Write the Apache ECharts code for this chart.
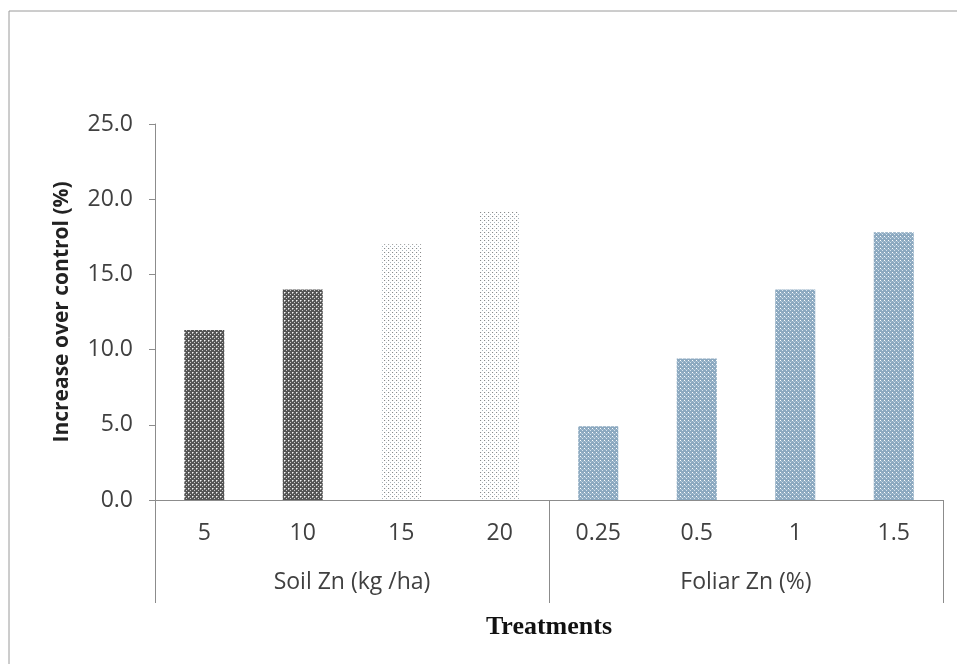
<!DOCTYPE html>
<html>
<head>
<meta charset="utf-8">
<script src="https://cdn.jsdelivr.net/npm/echarts@6/dist/echarts.min.js"></script>
<style>
  html, body { margin: 0; padding: 0; background: #fff; }
  #chart { width: 957px; height: 664px; }
</style>
</head>
<body>
<div id="chart"></div>
<script>
// Treatment levels and their increase over control (%)
const categories = ['5', '10', '15', '20', '0.25', '0.5', '1', '1.5'];
const groups = ['Soil Zn (kg /ha)', 'Foliar Zn (%)'];
const soilValues = [11.3, 14.0, 17.0, 19.2];
const foliarValues = [4.9, 9.4, 14.0, 17.8];
const yTicks = [0, 5, 10, 15, 20, 25];

// Small repeating tiles used as bar fills
function makeTile(size, bg, dots) {
  const c = document.createElement('canvas');
  c.width = size; c.height = size;
  const g = c.getContext('2d');
  g.fillStyle = bg;
  g.fillRect(0, 0, size, size);
  dots.forEach(d => { g.fillStyle = d[2]; g.fillRect(d[0], d[1], 1, 1); });
  return c;
}
const darkTile = makeTile(4, '#555555', [
  [0, 0, '#f6f6f6'], [2, 2, '#cccccc'], [1, 0, '#a8a8a8'], [0, 1, '#a8a8a8']
]);
const lightTile = makeTile(4, '#ffffff', [
  [0, 0, '#8a8a8a'], [2, 2, '#a8b4bc'], [1, 0, '#eef2f4']
]);
const blueTile = makeTile(4, '#8ca9c0', [
  [0, 0, '#ffffff'], [2, 2, '#d6e3ee'], [1, 1, '#b2c8d9'], [3, 1, '#9fb8cc']
]);

const fills = [darkTile, darkTile, lightTile, lightTile, blueTile, blueTile, blueTile, blueTile];
const allValues = soilValues.concat(foliarValues);

const chart = echarts.init(document.getElementById('chart'), null, { renderer: 'canvas' });
const labelFont = '"Open Sans", "Noto Sans", sans-serif';

chart.setOption({
  backgroundColor: '#ffffff',
  animation: false,
  grid: { left: 155, right: 14, top: 124, bottom: 164, containLabel: false },
  xAxis: [
    {
      type: 'category',
      data: categories,
      axisLine: { lineStyle: { color: '#8c8c8c', width: 1 } },
      axisTick: { show: false },
      axisLabel: { color: '#404040', fontSize: 23, fontFamily: labelFont, margin: 22 }
    },
    {
      type: 'category',
      data: groups,
      position: 'bottom',
      axisLine: { show: false },
      axisTick: { show: true, length: 103, lineStyle: { color: '#8c8c8c' } },
      axisLabel: { color: '#404040', fontSize: 23, fontFamily: labelFont, margin: 71 },
      name: 'Treatments',
      nameLocation: 'middle',
      nameGap: 114,
      nameTextStyle: {
        color: '#111', fontSize: 26, fontWeight: 'bold',
        fontFamily: '"Liberation Serif", "DejaVu Serif", serif'
      }
    }
  ],
  yAxis: {
    type: 'value',
    min: 0, max: 25, interval: 5,
    axisLine: { show: true, lineStyle: { color: '#8c8c8c' } },
    axisTick: { show: true, length: 6, lineStyle: { color: '#8c8c8c' } },
    splitLine: { show: false },
    axisLabel: {
      color: '#404040', fontSize: 23, fontFamily: labelFont, margin: 22,
      formatter: v => yTicks.indexOf(v) >= 0 ? v.toFixed(1) : ''
    },
    name: 'Increase over control (%)',
    nameLocation: 'middle',
    nameRotate: 90,
    nameGap: 82,
    nameTextStyle: { color: '#222', fontSize: 21, fontWeight: 'bold', fontFamily: labelFont }
  },
  series: [{
    type: 'bar',
    xAxisIndex: 0,
    barWidth: 40,
    data: allValues.map((v, i) => ({
      value: v,
      itemStyle: { color: { image: fills[i], repeat: 'repeat' } }
    }))
  }],
  graphic: [
    { type: 'polyline', shape: { points: [[9, 664], [9, 11], [957, 11]] },
      style: { stroke: '#9a9a9a', lineWidth: 1, fill: null } }
  ]
});
</script>
</body>
</html>
